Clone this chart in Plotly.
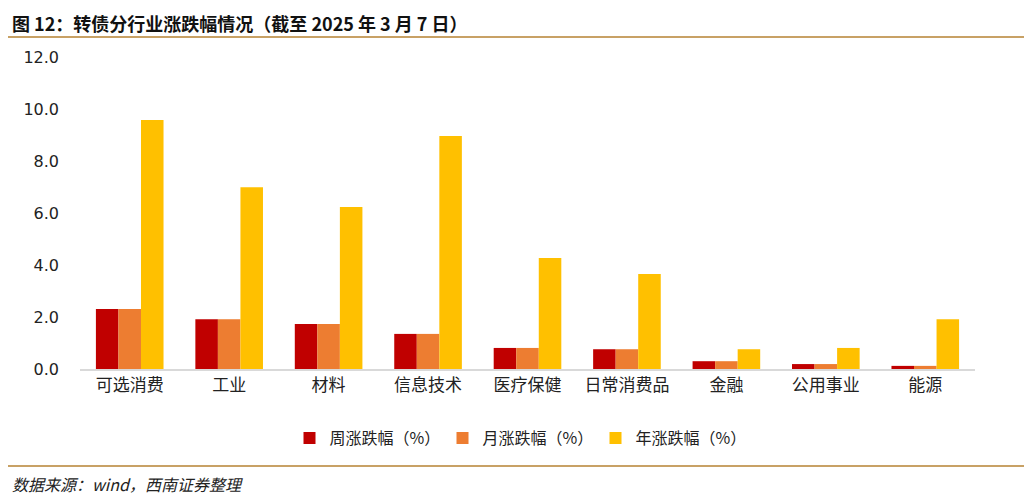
import plotly.graph_objects as go

categories = ["可选消费", "工业", "材料", "信息技术", "医疗保健", "日常消费品", "金融", "公用事业", "能源"]
week_chg = [2.31, 1.91, 1.73, 1.35, 0.81, 0.76, 0.30, 0.19, 0.12]
month_chg = [2.31, 1.91, 1.73, 1.35, 0.81, 0.76, 0.30, 0.19, 0.12]
year_chg = [9.58, 6.99, 6.23, 8.96, 4.27, 3.65, 0.76, 0.81, 1.91]

series = [
    ("周涨跌幅（%）", week_chg, "#C00000"),
    ("月涨跌幅（%）", month_chg, "#ED7D31"),
    ("年涨跌幅（%）", year_chg, "#FFC000"),
]

font_cjk = "Noto Sans CJK SC, Noto Sans, sans-serif"

fig = go.Figure()
for name, vals, color in series:
    fig.add_trace(go.Bar(x=categories, y=vals, name=name,
                         marker=dict(color=color, line=dict(width=0))))

# the page body has an 8px margin, so the figure is drawn 8px in from the window
OFF = 8
W, H = 1032 - OFF, 498 - OFF
ml, mr, mt, mb = 80 - OFF, 57, 57 - OFF, 129
pw, ph = W - ml - mr, H - mt - mb

# window pixel -> paper coords
def px_x(x):
    return (x - OFF - ml) / pw

def px_y(y):
    return (H - mb - (y - OFF)) / ph

fig.update_layout(
    width=W, height=H,
    margin=dict(l=ml, r=mr, t=mt, b=mb, autoexpand=False),
    paper_bgcolor="white", plot_bgcolor="white",
    barmode="group", bargap=0.32, bargroupgap=0,
    font=dict(family=font_cjk, size=15, color="#222222"),
    showlegend=True,
    legend=dict(orientation="h", x=px_x(519), xanchor="center",
                y=px_y(438), yanchor="middle",
                font=dict(size=16), itemwidth=30,
                entrywidth=108, entrywidthmode="pixels",
                traceorder="normal"),
    xaxis=dict(showline=True, linecolor="#D9D9D9", linewidth=1.5,
               ticks="", tickfont=dict(size=17, color="#222222")),
    yaxis=dict(range=[0, 12], dtick=2, tickformat=".1f", showgrid=False,
               zeroline=False, showline=False, ticks="",
               ticklabelstandoff=20,
               tickfont=dict(size=16, color="#222222",
                             family="DejaVu Sans, sans-serif")),
)

fig.add_annotation(text="<b>图 12：转债分行业涨跌幅情况（截至 2025 年 3 月 7 日）</b>",
                   xref="paper", yref="paper", x=px_x(10), y=px_y(8),
                   xanchor="left", yanchor="top", showarrow=False,
                   font=dict(size=18, color="#111111", family=font_cjk))
fig.add_annotation(text="<i>数据来源：wind，西南证券整理</i>",
                   xref="paper", yref="paper", x=px_x(10), y=px_y(484),
                   xanchor="left", yanchor="middle", showarrow=False,
                   font=dict(size=16, color="#222222", family=font_cjk))

for yy in (37, 466):
    fig.add_shape(type="line", xref="paper", yref="paper",
                  x0=px_x(8), x1=px_x(1027), y0=px_y(yy), y1=px_y(yy),
                  line=dict(color="#C8A165", width=2))

fig.write_html("out.html")
